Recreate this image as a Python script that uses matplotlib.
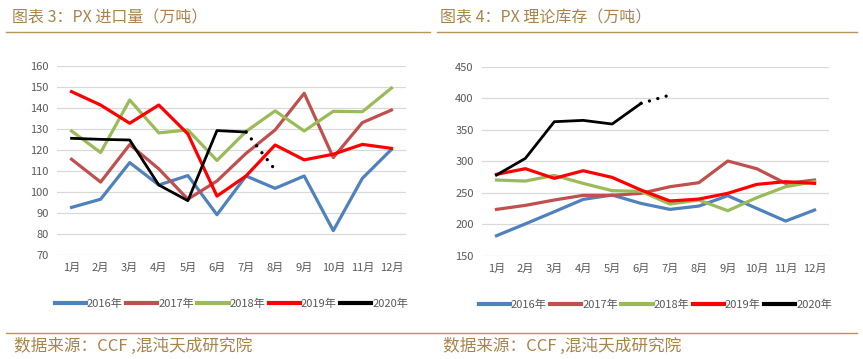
import matplotlib
matplotlib.use("Agg")
import matplotlib.pyplot as plt
from matplotlib.lines import Line2D

plt.rcParams['font.family'] = ['Noto Sans CJK SC', 'DejaVu Sans']

months = ['1月', '2月', '3月', '4月', '5月', '6月', '7月', '8月', '9月', '10月', '11月', '12月']
years = ['2016年', '2017年', '2018年', '2019年', '2020年']
colors = ['#4F81BD', '#C0504D', '#9BBB59', '#FF0000', '#000000']

# PX imports (10k t)
imp_2016 = [92.6, 96.5, 114.0, 103.3, 107.8, 89.1, 107.6, 101.7, 107.6, 81.5, 106.5, 120.3]
imp_2017 = [115.6, 104.7, 122.6, 111.0, 96.5, 105.2, 118.4, 129.6, 147.1, 116.4, 133.1, 139.1]
imp_2018 = [129.1, 118.8, 143.9, 128.2, 129.6, 115.0, 128.9, 138.7, 129.1, 138.5, 138.3, 149.6]
imp_2019 = [147.9, 141.5, 132.8, 141.5, 127.7, 98.0, 107.6, 122.4, 115.3, 118.0, 122.7, 120.8]
imp_2020 = [125.6, 125.1, 124.8, 103.3, 95.8, 129.3, 128.6]
imp_2020_est = 110.5  # 8月, dotted

# PX theoretical inventory (10k t)
inv_2016 = [181.7, 200.5, 219.8, 239.4, 246.3, 233.0, 223.5, 228.8, 245.2, 225.1, 205.0, 222.5]
inv_2017 = [223.5, 229.9, 238.4, 245.8, 245.8, 249.0, 259.5, 265.9, 300.3, 288.1, 264.8, 270.1]
inv_2018 = [270.1, 268.5, 277.5, 264.8, 253.2, 252.1, 232.0, 238.4, 221.4, 242.1, 259.5, 267.5]
inv_2019 = [279.1, 288.1, 272.8, 284.9, 274.3, 254.2, 236.8, 239.9, 249.0, 263.2, 267.5, 264.8]
inv_2020 = [278.0, 304.5, 362.7, 364.8, 359.0, 391.8]
inv_2020_est = 405.0  # 7月, dotted

W, H = 863, 359
fig = plt.figure(figsize=(W / 100, H / 100), dpi=100)
gold = '#A8844C'


def box(x0, y0, x1, y1):
    return [x0 / W, 1 - y1 / H, (x1 - x0) / W, (y1 - y0) / H]


def draw(ax, series, last, est, ylim, step):
    x = list(range(12))
    for s, c in zip(series, colors[:4]):
        ax.plot(x, s, color=c, lw=2.3)
    n = len(last)
    ax.plot(x[:n], last, color=colors[4], lw=2.0)
    ax.plot([n - 1, n], [last[-1], est], color='black', lw=2.4,
            ls=(0, (0.01, 2.6)), dash_capstyle='round')
    ax.set_xlim(-0.5, 11.5)
    ax.set_ylim(*ylim)
    ax.set_yticks(range(ylim[0], ylim[1] + 1, step))
    ax.set_xticks(x)
    ax.set_xticklabels(months)
    ax.grid(axis='y', color='#D9D9D9', lw=0.9)
    ax.set_axisbelow(True)
    for sp in ax.spines.values():
        sp.set_visible(False)
    ax.tick_params(length=0, labelsize=8, colors='#595959', pad=6)
    handles = [Line2D([], [], color=c, lw=3) for c in colors]
    ax.legend(handles, years, loc='upper center', bbox_to_anchor=(0.5, -0.18),
              ncol=5, frameon=False, fontsize=8, handlelength=2.8,
              handletextpad=0.1, columnspacing=0.3, labelcolor='#595959')


ax1 = fig.add_axes(box(57, 66.3, 406, 254.7))
draw(ax1, [imp_2016, imp_2017, imp_2018, imp_2019], imp_2020, imp_2020_est, (70, 160), 10)

ax2 = fig.add_axes(box(482, 66.7, 829, 255.7))
draw(ax2, [inv_2016, inv_2017, inv_2018, inv_2019], inv_2020, inv_2020_est, (150, 450), 50)

fig.text(12 / W, 1 - 18 / H, '图表 3：PX 进口量（万吨）', color=gold, fontsize=11.5, va='center')
fig.text(440 / W, 1 - 18 / H, '图表 4：PX 理论库存（万吨）', color=gold, fontsize=11.5, va='center')
fig.add_artist(Line2D([6 / W, 430 / W], [1 - 32 / H] * 2, color='#B8935A', lw=1))
fig.add_artist(Line2D([437 / W, 857 / W], [1 - 32 / H] * 2, color='#B8935A', lw=1))
fig.add_artist(Line2D([6 / W, 857 / W], [1 - 333 / H] * 2, color='#B8935A', lw=1))
fig.text(14 / W, 1 - 346 / H, '数据来源：CCF ,混沌天成研究院', color=gold, fontsize=12, va='center')
fig.text(443 / W, 1 - 346 / H, '数据来源：CCF ,混沌天成研究院', color=gold, fontsize=12, va='center')

fig.savefig('out.png', dpi=100)
